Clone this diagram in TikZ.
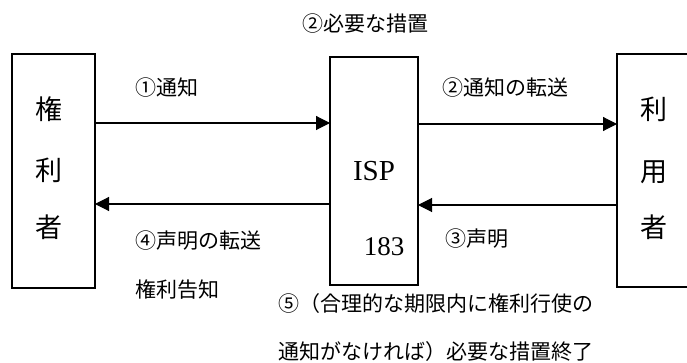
\documentclass[tikz,border=0pt]{standalone}
\usepackage{fontspec}
\setmainfont{Liberation Serif}
\newfontfamily\jpfont{Noto Sans CJK JP}
\usetikzlibrary{arrows.meta}
\tikzset{
  box/.style={draw=black, line width=1.5pt, fill=white, inner sep=0pt, outer sep=0pt},
  jp/.style={font=\jpfont\fontsize{21pt}{21pt}\selectfont, inner sep=0pt, anchor=west, text=black},
  jpv/.style={font=\jpfont\fontsize{27pt}{27pt}\selectfont, inner sep=0pt, text=black},
  arr/.style={draw=black, line width=1.1pt, -{Triangle[length=14pt, width=14pt]}},
}
\begin{document}
\begin{tikzpicture}[x=1pt, y=-1pt]
\clip (0,0) rectangle (687,363);
\fill[white] (0,0) rectangle (687,363);
% boxes
\node[box, minimum width=83pt, minimum height=234pt] (holder) at (53.5,171) {};
\node[box, minimum width=88pt, minimum height=228pt] (isp) at (374,171) {};
\node[box, minimum width=83pt, minimum height=233pt] (user) at (658.5,170.5) {};
% vertical labels
\node[jpv] (h1) at (49,109) {権};
\node[jpv] (h2) at (49,170) {利};
\node[jpv] (h3) at (49,227) {者};
\node[jpv] (u1) at (654,109) {利};
\node[jpv] (u2) at (654,172) {用};
\node[jpv] (u3) at (654,227) {者};
% ISP texts
\node[font=\fontsize{29pt}{29pt}\selectfont, inner sep=0pt] (isplabel) at (374,171) {ISP};
\node[font=\fontsize{27pt}{27pt}\selectfont, inner sep=0pt] (ispnum) at (384,247) {183};
% connectors
\draw[arr] (holder.east |- 0,123) -- (isp.west |- 0,123);
\draw[arr] (isp.west |- 0,204) -- (holder.east |- 0,204);
\draw[arr] (isp.east |- 0,124) -- (user.west |- 0,124);
\draw[arr] (user.west |- 0,205) -- (isp.east |- 0,205);
% labels
\node[jp] (t0) at (302,24) {②必要な措置};
\node[jp] (t1) at (135,88) {①通知};
\node[jp] (t2) at (442,88) {②通知の転送};
\node[jp] (t4) at (135,241) {④声明の転送};
\node[jp] (t3) at (445,239) {③声明};
\node[jp] (t4b) at (135,290) {権利告知};
\node[jp] (t5) at (278,304) {⑤（合理的な期限内に権利行使の};
\node[jp] (t5b) at (278,352) {通知がなければ）必要な措置終了};
\end{tikzpicture}
\end{document}
